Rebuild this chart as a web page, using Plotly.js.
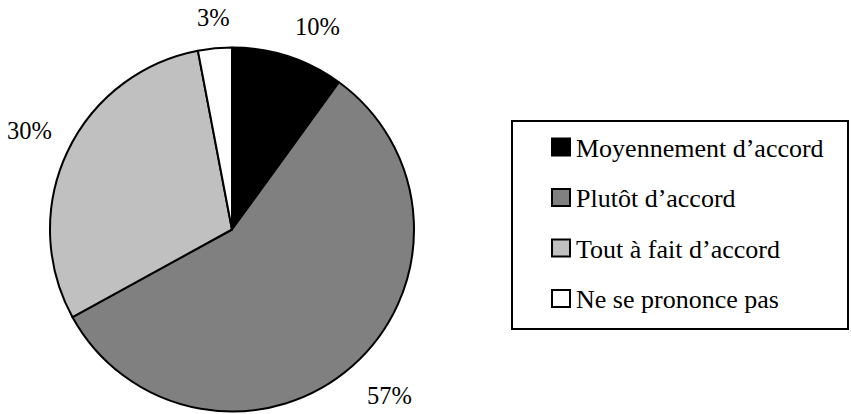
<!DOCTYPE html>
<html>
<head>
<meta charset="utf-8">
<script src="https://cdn.plot.ly/plotly-3.0.1.min.js"></script>
<style>html,body{margin:0;padding:0;background:#fff;}#chart{width:851px;height:414px;}</style>
</head>
<body>
<div id="chart"></div>
<script>
const categories = ["Moyennement d’accord", "Plutôt d’accord", "Tout à fait d’accord", "Ne se prononce pas"];
const values = [10, 57, 30, 3];
const colors = ["#000000", "#808080", "#c0c0c0", "#ffffff"];

const W = 851, H = 414;
const FONT = "Times New Roman";

const px = x => x / W;
const py = y => 1 - y / H;

// pie geometry (pixels)
const pieL = 50, pieR = 414, pieT = 47, pieB = 412;
const cx = (pieL + pieR) / 2, cy = (pieT + pieB) / 2;
const rad = Math.min(pieR - pieL, pieB - pieT) / 2;

const shapes = [{
  type: "rect", xref: "paper", yref: "paper",
  x0: px(512), x1: px(848), y0: py(121), y1: py(329),
  line: {color: "#000", width: 2}, fillcolor: "rgba(0,0,0,0)"
}];
const annotations = [];

// legend entries
categories.forEach((c, i) => {
  const yc = 147 + i * 50.5;
  shapes.push({
    type: "rect", xref: "paper", yref: "paper",
    x0: px(552), x1: px(570), y0: py(yc - 8.5), y1: py(yc + 8.5),
    line: {color: "#000", width: 2}, fillcolor: colors[i]
  });
  annotations.push({
    xref: "paper", yref: "paper", x: px(574), y: py(yc + 1),
    xanchor: "left", yanchor: "middle", showarrow: false,
    text: c, font: {family: FONT, size: 26, color: "#000"}
  });
});

// percentage labels placed outside each slice, from the values
const total = values.reduce((a, b) => a + b, 0);
let cum = 0;
values.forEach((v, i) => {
  const mid = (cum + v / 2) / total * 2 * Math.PI;
  cum += v;
  const ux = Math.sin(mid), uy = -Math.cos(mid);
  const d = rad + (uy > 0 ? 19 : 15);
  const x = cx + ux * d, y = cy + uy * d;
  annotations.push({
    xref: "paper", yref: "paper", x: px(x), y: py(y),
    xanchor: ux > 0.2 ? "left" : (ux < -0.2 ? "right" : "center"),
    yanchor: uy > 0 ? "top" : "bottom",
    showarrow: false,
    text: Math.round(v / total * 100) + "%",
    font: {family: FONT, size: 24.5, color: "#000"}
  });
});

const trace = {
  type: "pie",
  labels: categories,
  values: values,
  sort: false,
  direction: "clockwise",
  rotation: 0,
  marker: {colors: colors, line: {color: "#000", width: 2}},
  textinfo: "none",
  hoverinfo: "label+percent",
  domain: {x: [pieL / W, pieR / W], y: [(H - pieB) / H, (H - pieT) / H]},
  showlegend: false
};

Plotly.newPlot("chart", [trace], {
  width: W, height: H,
  margin: {l: 0, r: 0, t: 0, b: 0},
  paper_bgcolor: "#fff",
  font: {family: FONT},
  showlegend: false,
  shapes: shapes,
  annotations: annotations
}, {displayModeBar: false, staticPlot: true});
</script>
</body>
</html>
